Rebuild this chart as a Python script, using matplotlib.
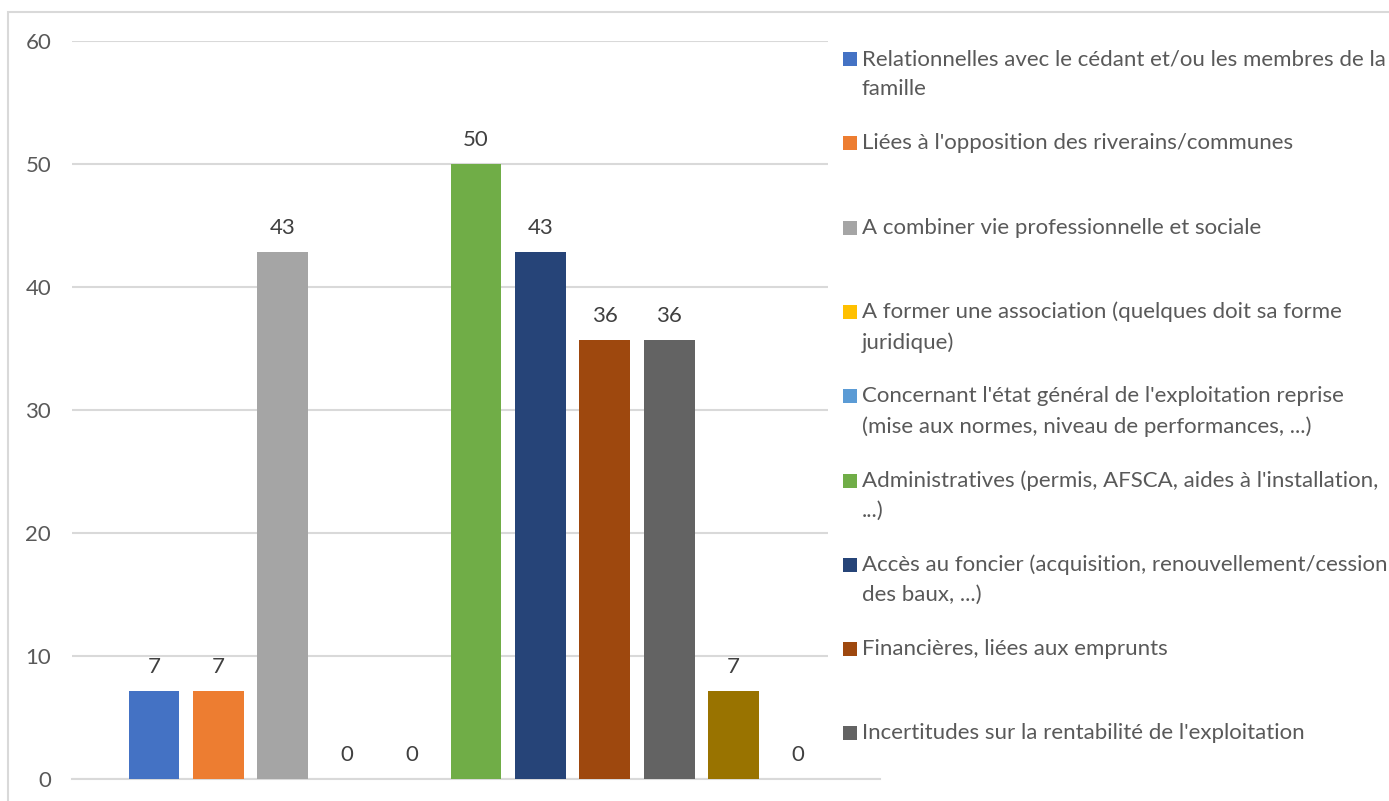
import matplotlib.pyplot as plt
from matplotlib.patches import Rectangle

plt.rcParams['font.family'] = ['Lato', 'DejaVu Sans']

# une barre par type de difficulté (en %)
valeurs = [7.14, 7.14, 42.86, 0, 0, 50.0, 42.86, 35.71, 35.71, 7.14, 0]
couleurs = ['#4472C4', '#ED7D31', '#A5A5A5', '#FFC000', '#5B9BD5', '#70AD47',
            '#264478', '#9E480E', '#636363', '#997300', '#255E91']
# seules les 9 premières entrées de la légende sont visibles
legendes = [
    "Relationnelles avec le cédant et/ou les membres de la\nfamille",
    "Liées à l'opposition des riverains/communes",
    "A combiner vie professionnelle et sociale",
    "A former une association (quelques doit sa forme\njuridique)",
    "Concernant l'état général de l'exploitation reprise\n(mise aux normes, niveau de performances, ...)",
    "Administratives (permis, AFSCA, aides à l'installation,\n...)",
    "Accès au foncier (acquisition, renouvellement/cession\ndes baux, ...)",
    "Financières, liées aux emprunts",
    "Incertitudes sur la rentabilité de l'exploitation",
]
graduations = [0, 10, 20, 30, 40, 50, 60]

W, H = 1389, 801
fig = plt.figure(figsize=(W / 100, H / 100), dpi=100)
fig.patch.set_facecolor('white')

# cadre du graphique
fig.patches.append(Rectangle((8 / W, -0.1), 1.2, 1.1 - 12 / H, transform=fig.transFigure,
                             fill=False, edgecolor='#D9D9D9', linewidth=1.5))

ax = fig.add_axes([72 / W, 22 / H, (880 - 72) / W, 738 / H])
x = list(range(len(valeurs)))
ax.bar(x, valeurs, width=0.79, color=couleurs, zorder=3)
ax.set_xlim(-1.273, len(valeurs) - 1 + 1.273)
ax.set_ylim(0, 60)
ax.set_yticks(graduations)
ax.yaxis.grid(True, color='#D9D9D9', linewidth=1.5, zorder=0)
ax.set_xticks([])
for s in ['top', 'right', 'left']:
    ax.spines[s].set_visible(False)
ax.spines['bottom'].set_color('#D9D9D9')
ax.spines['bottom'].set_linewidth(1.5)
ax.tick_params(axis='y', length=0, pad=15, labelsize=16, labelcolor='#595959')

for xi, v in zip(x, valeurs):
    ax.annotate(f"{v:.0f}", (xi, v), xytext=(0, 10), textcoords='offset points',
                ha='center', va='bottom', fontsize=16, color='#404040')

# légende dessinée à la main (style Excel, entrées à pas constant)
fig.patches.append(Rectangle((828 / W, 45 / H), 1, (770 - 45) / H, transform=fig.transFigure,
                             facecolor='white', edgecolor='none', zorder=5))
y0, pas = 59, 84.3
for i, lab in enumerate(legendes):
    yc = y0 + i * pas
    fig.patches.append(Rectangle((843 / W, 1 - (yc + 7) / H), 14 / W, 14 / H,
                                 transform=fig.transFigure, facecolor=couleurs[i],
                                 edgecolor='none', zorder=6))
    fig.text(862 / W, 1 - (yc - 10) / H, lab, ha='left', va='top', fontsize=16,
             color='#595959', linespacing=1.62, zorder=6)

fig.savefig('out.png', dpi=100)
